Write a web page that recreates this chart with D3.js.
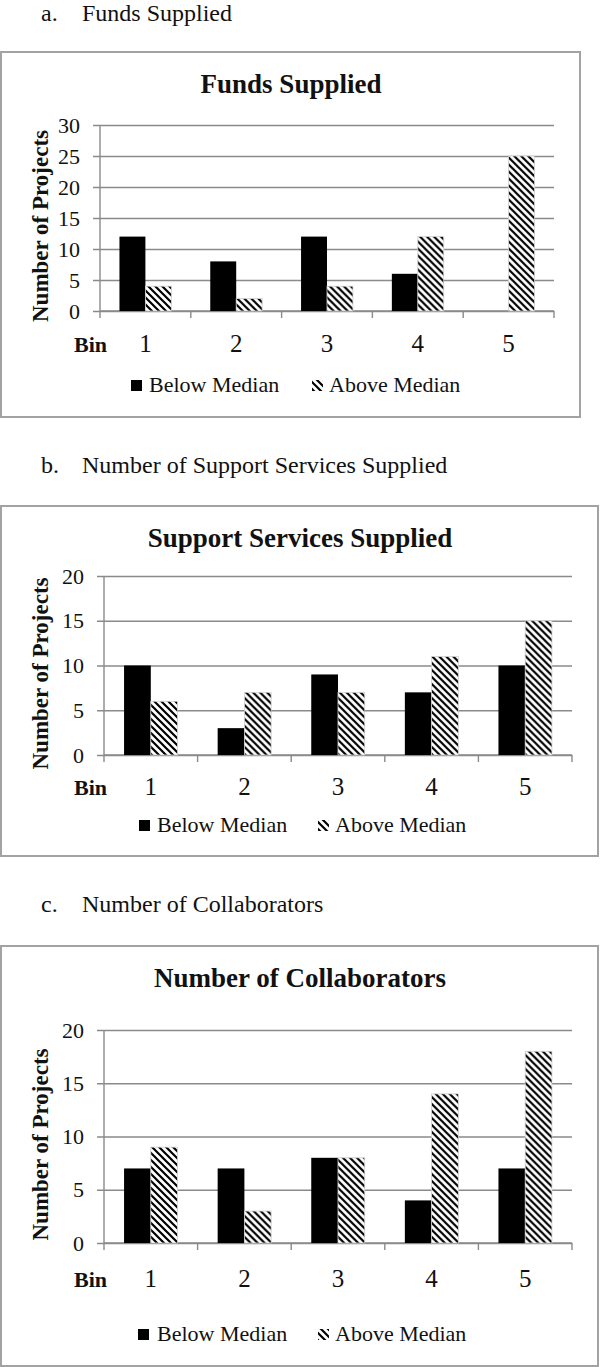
<!DOCTYPE html>
<html>
<head>
<meta charset="utf-8">
<script src="https://cdn.jsdelivr.net/npm/d3@7"></script>
<style>
  body { margin: 0; background: #fff; }
  svg { display: block; }
  text { font-family: "Liberation Serif", "Times New Roman", serif; fill: #111; }
</style>
</head>
<body>
<svg width="600" height="1367"></svg>
<script>
// chart data
const bins = ["1", "2", "3", "4", "5"];
const seriesNames = ["Below Median", "Above Median"];
const captionLetters = ["a.", "b.", "c."];
const captionTexts = ["Funds Supplied", "Number of Support Services Supplied", "Number of Collaborators"];
const chartTitles = ["Funds Supplied", "Support Services Supplied", "Number of Collaborators"];
const yMaxes = [30, 20, 20];
const fundsBelow = [12, 8, 12, 6, 0];
const fundsAbove = [4, 2, 4, 12, 25];
const supportBelow = [10, 3, 9, 7, 10];
const supportAbove = [6, 7, 7, 11, 15];
const collabBelow = [7, 7, 8, 4, 7];
const collabAbove = [9, 3, 8, 14, 18];
const yTickStep = 5;

const belowSets = [fundsBelow, supportBelow, collabBelow];
const aboveSets = [fundsAbove, supportAbove, collabAbove];

// where each panel sits on the page
const layout = [
  { capY: 21,  box: [1, 52, 580, 417],   titleX: 291, titleY: 93,  plot: [100, 125, 554, 311],   binY: 352,  legY: 392,  leg: [131, 149, 312, 329] },
  { capY: 473, box: [1, 506, 598, 856],  titleX: 300, titleY: 547, plot: [104, 576, 572, 755],   binY: 795,  legY: 832,  leg: [139, 157, 318, 335] },
  { capY: 912, box: [1, 946, 598, 1366], titleX: 300, titleY: 987, plot: [104, 1030, 572, 1243], binY: 1287, legY: 1341, leg: [138, 157, 318, 335] }
];

const svg = d3.select("svg");

// hatch fill for the "Above Median" bars (downward diagonal stripes)
const defs = svg.append("defs");
const pat = defs.append("pattern")
  .attr("id", "hatch")
  .attr("patternUnits", "userSpaceOnUse")
  .attr("width", 7).attr("height", 7);
pat.append("rect").attr("width", 7).attr("height", 7).attr("fill", "#fff");
pat.append("path")
  .attr("d", "M-2,5 L2,9 M-1,-1 L8,8 M5,-2 L9,2")
  .attr("stroke", "#000")
  .attr("stroke-width", 2.2);

const fills = ["#000", "url(#hatch)"];

layout.forEach((L, i) => {
  const g = svg.append("g");

  // caption above the box
  g.append("text").attr("x", 41).attr("y", L.capY)
    .style("font-size", "24px").text(captionLetters[i]);
  g.append("text").attr("x", 82).attr("y", L.capY)
    .style("font-size", "24px").text(captionTexts[i]);

  // frame
  g.append("rect")
    .attr("x", L.box[0]).attr("y", L.box[1])
    .attr("width", L.box[2] - L.box[0]).attr("height", L.box[3] - L.box[1])
    .attr("fill", "none").attr("stroke", "#a3a3a3").attr("stroke-width", 2);

  g.append("text").attr("x", L.titleX).attr("y", L.titleY)
    .attr("text-anchor", "middle")
    .style("font-size", "27px").style("font-weight", "bold")
    .text(chartTitles[i]);

  const [px0, py0, px1, py1] = L.plot;
  const x = d3.scaleBand().domain(bins).range([px0, px1]);
  const xs = d3.scaleBand().domain(seriesNames).range([0, x.bandwidth()])
    .paddingInner(0).paddingOuter(0.75);
  const y = d3.scaleLinear().domain([0, yMaxes[i]]).range([py1, py0]);

  // y axis with gridlines
  const yAxis = d3.axisLeft(y)
    .tickValues(d3.range(0, yMaxes[i] + 1, yTickStep))
    .tickSize(-(px1 - px0))
    .tickPadding(20);
  const ya = g.append("g").attr("transform", `translate(${px0},0)`).call(yAxis);
  ya.select(".domain").remove();
  ya.selectAll(".tick line")
    .attr("x1", -7)
    .attr("stroke", "#8a8a8a").attr("stroke-width", 1.4);
  ya.selectAll(".tick text")
    .style("font-size", "22px")
    .style("font-family", "Liberation Serif, serif")
    .attr("fill", "#111");

  g.append("line")
    .attr("x1", px0).attr("x2", px0).attr("y1", py0).attr("y2", py1)
    .attr("stroke", "#8a8a8a").attr("stroke-width", 1.4);

  // x axis line and the bin boundary ticks
  g.append("line")
    .attr("x1", px0).attr("x2", px1).attr("y1", py1).attr("y2", py1)
    .attr("stroke", "#8a8a8a").attr("stroke-width", 1.4);
  const edges = bins.map(b => x(b)).concat([px1]);
  g.selectAll(".edge").data(edges).enter().append("line")
    .attr("x1", d => d).attr("x2", d => d)
    .attr("y1", py1).attr("y2", py1 + 7)
    .attr("stroke", "#8a8a8a").attr("stroke-width", 1.4);

  // bars
  const rows = bins.map((b, j) => ({ bin: b, vals: [belowSets[i][j], aboveSets[i][j]] }));
  const grp = g.selectAll(".bin").data(rows).enter().append("g")
    .attr("transform", d => `translate(${x(d.bin)},0)`);
  grp.selectAll("rect")
    .data(d => d.vals.map((v, k) => ({ s: seriesNames[k], v: v, k: k })))
    .enter().append("rect")
    .attr("x", d => xs(d.s))
    .attr("width", xs.bandwidth())
    .attr("y", d => y(d.v))
    .attr("height", d => y(0) - y(d.v))
    .attr("fill", d => fills[d.k])
    .attr("stroke", d => d.k === 1 && d.v > 0 ? "#d0d0d0" : "none")
    .attr("stroke-width", 0.8);

  // category labels
  g.append("text").attr("x", 107).attr("y", L.binY)
    .attr("text-anchor", "end")
    .style("font-size", "22px").style("font-weight", "bold").text("Bin");
  g.selectAll(".cat").data(bins).enter().append("text")
    .attr("x", d => x(d) + x.bandwidth() / 2).attr("y", L.binY)
    .attr("text-anchor", "middle")
    .style("font-size", "25px").text(d => d);

  // y axis title
  g.append("text")
    .attr("transform", `translate(48,${(py0 + py1) / 2 + 8}) rotate(-90)`)
    .attr("text-anchor", "middle")
    .style("font-size", "23px").style("font-weight", "bold")
    .text("Number of Projects");

  // legend
  const [sq1, t1, sq2, t2] = L.leg;
  [[sq1, t1], [sq2, t2]].forEach((p, k) => {
    g.append("rect")
      .attr("x", p[0]).attr("y", L.legY - 12)
      .attr("width", 11).attr("height", 11)
      .attr("fill", fills[k]);
    g.append("text").attr("x", p[1]).attr("y", L.legY)
      .style("font-size", "22px").text(seriesNames[k]);
  });
});
</script>
</body>
</html>
